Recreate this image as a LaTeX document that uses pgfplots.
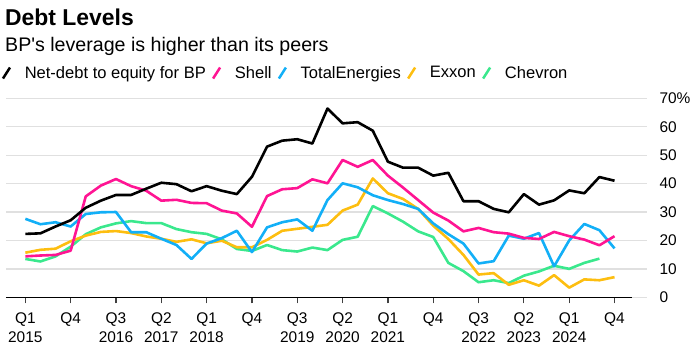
\documentclass[border=0pt]{standalone}
\usepackage{pgfplots}
\pgfplotsset{compat=1.18}
\usepackage{fontspec}
\setmainfont{Liberation Sans}
\definecolor{bpcol}{HTML}{000000}
\definecolor{shellcol}{HTML}{FF1493}
\definecolor{totcol}{HTML}{12AFF7}
\definecolor{exxcol}{HTML}{FDBE10}
\definecolor{chevcol}{HTML}{3AE88D}
\definecolor{gridcol}{HTML}{E0E0E0}
\begin{document}
\begin{tikzpicture}
\path[use as bounding box] (0,0) rectangle (693bp,357bp);
\node[anchor=base west, inner sep=0, font=\fontsize{23}{25}\selectfont\bfseries] at (5bp,331bp) {Debt Levels};
\node[anchor=base west, inner sep=0, font=\fontsize{19.7}{22}\selectfont] at (5bp,305bp) {BP\textquotesingle s leverage is higher than its peers};
\begin{axis}[
  at={(6bp,59.7bp)}, anchor=south west,
  scale only axis, width=641bp, height=199bp,
  xmin=-1.28, xmax=41.15, ymin=0, ymax=70,
  axis line style={draw=none},
  xtick={0,3,...,39},
  xticklabels={{Q1\\2015},{Q4},{Q3\\2016},{Q2\\2017},{Q1\\2018},{Q4},{Q3\\2019},{Q2\\2020},{Q1\\2021},{Q4},{Q3\\2022},{Q2\\2023},{Q1\\2024},{Q4}},
  xticklabel style={align=center, font=\fontsize{15.5}{19}\selectfont, anchor=north, yshift=-6bp},
  xtick pos=bottom, tick align=outside,
  major tick length=6bp,
  xtick style={draw=black!75, line width=1.2bp},
  ytick={0,10,...,70},
  yticklabels={0,10,20,30,40,50,60,70\%},
  yticklabel pos=right,
  ytick style={draw=none},
  yticklabel style={anchor=west, font=\fontsize{15.5}{18}\selectfont, xshift=3bp},
  ymajorgrids, grid style={gridcol, line width=1.3bp},
  /pgf/number format/assume math mode=true,
  legend columns=-1,
  legend style={draw=none, fill=none, at={(axis description cs:-0.007,1.127)}, anchor=west,
    font=\fontsize{16.6}{18}\selectfont, inner sep=0pt,
    /tikz/every even column/.append style={column sep=4bp}},
  legend image code/.code={\draw[#1, line width=2.5bp] (0.5bp,-5.5bp) -- (7.5bp,5.5bp); \path (19bp,0bp);},
  every axis plot/.append style={line width=2.6bp, line join=round},
]
\addlegendimage{bpcol}\addlegendentry{Net-debt to equity for BP}
\addlegendimage{shellcol}\addlegendentry{Shell}
\addlegendimage{totcol}\addlegendentry{TotalEnergies}
\addlegendimage{exxcol}\addlegendentry{Exxon}
\addlegendimage{chevcol}\addlegendentry{Chevron}
\draw[black, line width=1.3bp] (axis cs:-1.28,0) -- (axis cs:40.15,0);
% Chevron
\addplot[chevcol, forget plot] coordinates {
(0,13.5)(1,12.6)(2,14.4)(3,17.8)(4,22.2)(5,24.6)(6,26.0)(7,26.8)(8,26.1)(9,26.1)
(10,24.0)(11,22.9)(12,22.3)(13,20.4)(14,17.0)(15,16.3)(16,18.4)(17,16.6)(18,16.1)(19,17.5)
(20,16.6)(21,20.2)(22,21.3)(23,32.1)(24,29.5)(25,26.6)(26,23.2)(27,21.2)(28,12.1)(29,9.2)
(30,5.3)(31,6.0)(32,5.0)(33,7.6)(34,9.1)(35,11.1)(36,10.0)(37,12.1)(38,13.6)};
% Exxon
\addplot[exxcol, forget plot] coordinates {
(0,15.7)(1,16.7)(2,17.1)(3,19.7)(4,21.7)(5,23.0)(6,23.3)(7,22.6)(8,21.4)(9,20.6)
(10,19.5)(11,20.4)(12,19.0)(13,19.9)(14,17.6)(15,17.6)(16,20.2)(17,23.4)(18,24.1)(19,24.8)
(20,25.5)(21,30.5)(22,32.6)(23,41.8)(24,36.6)(25,34.6)(26,31.1)(27,25.2)(28,20.5)(29,14.9)
(30,8.0)(31,8.5)(32,4.4)(33,6.0)(34,4.1)(35,7.8)(36,3.4)(37,6.3)(38,6.0)(39,7.1)};
% TotalEnergies
\addplot[totcol, forget plot] coordinates {
(0,27.6)(1,25.7)(2,26.4)(3,24.9)(4,29.3)(5,29.9)(6,30.0)(7,22.9)(8,22.9)(9,20.6)
(10,18.4)(11,13.5)(12,18.9)(13,20.8)(14,23.4)(15,15.9)(16,24.6)(17,26.4)(18,27.4)(19,23.4)
(20,34.2)(21,40.1)(22,38.7)(23,35.9)(24,34.2)(25,32.8)(26,31.1)(27,26.0)(28,22.2)(29,18.9)
(30,11.9)(31,12.7)(32,21.7)(33,20.6)(34,22.6)(35,10.9)(36,20.0)(37,25.8)(38,23.6)(39,17.2)};
% Shell
\addplot[shellcol, forget plot] coordinates {
(0,14.4)(1,14.7)(2,14.9)(3,16.4)(4,35.5)(5,39.3)(6,41.6)(7,39.1)(8,37.5)(9,34.0)
(10,34.3)(11,33.2)(12,33.1)(13,30.5)(14,29.5)(15,24.8)(16,35.6)(17,38.0)(18,38.4)(19,41.5)
(20,40.1)(21,48.3)(22,45.9)(23,48.3)(24,42.8)(25,38.6)(26,34.2)(27,29.8)(28,27.0)(29,23.2)
(30,24.4)(31,22.9)(32,22.4)(33,20.9)(34,20.5)(35,23.0)(36,21.5)(37,20.3)(38,18.3)(39,21.5)};
% BP
\addplot[bpcol, forget plot] coordinates {
(0,22.3)(1,22.5)(2,24.9)(3,27.1)(4,31.5)(5,34.0)(6,36.0)(7,36.0)(8,38.2)(9,40.3)
(10,39.8)(11,37.3)(12,39.1)(13,37.5)(14,36.3)(15,42.4)(16,53.0)(17,55.1)(18,55.6)(19,54.1)
(20,66.4)(21,61.2)(22,61.6)(23,58.6)(24,47.7)(25,45.6)(26,45.6)(27,42.8)(28,43.8)(29,33.8)
(30,33.8)(31,31.1)(32,29.9)(33,36.3)(34,32.6)(35,34.1)(36,37.6)(37,36.6)(38,42.3)(39,41.0)};
\end{axis}
\end{tikzpicture}
\end{document}
